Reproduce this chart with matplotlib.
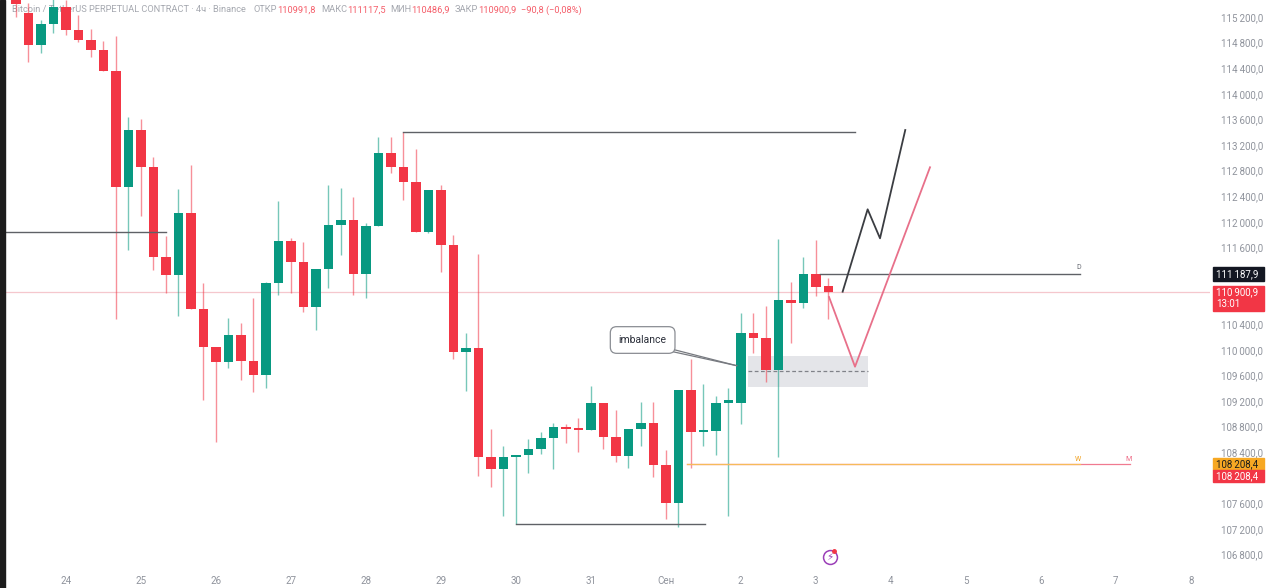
import matplotlib
matplotlib.use('Agg')
import matplotlib.pyplot as plt
from matplotlib.patches import Rectangle
from matplotlib.transforms import IdentityTransform, blended_transform_factory
import numpy as np

plt.rcParams['font.family'] = ['Roboto', 'DejaVu Sans']

# BTCUSDT.P 4h candles, index 0 = 24 Aug 00:00
idx = list(range(-4, 62))
opens = [115591, 115258, 114762, 115091, 115361, 114997, 114841, 114684, 114361, 112539,
         113434, 112856, 111450, 111169, 112137, 110637, 110048, 109809, 110231, 109830,
         109606, 111048, 111705, 111367, 110673, 111258, 111950, 112028, 111184, 111939,
         113070, 112861, 112627, 111845, 112497, 111637, 109961, 110033, 108320, 108137,
         108320, 108356, 108450, 108627, 108798, 108762, 108747, 109164, 108642, 108341,
         108758, 108861, 108200, 107601, 109372, 108711, 108731, 109174, 109174, 110267,
         110179, 109684, 110778, 110736, 111180, 110991.8]
highs = [115653, 115414, 115153, 115512, 115466, 115231, 115012, 114825, 114903, 113637,
         113606, 113012, 111778, 112512, 112887, 111039, 110048, 110497, 110419, 110809,
         111059, 112325, 111747, 111689, 111258, 112575, 112533, 112392, 111981, 113320,
         113330, 113408, 113133, 112497, 112575, 111794, 110258, 111492, 108762, 108497,
         108356, 108601, 108720, 108852, 108841, 108939, 109434, 109169, 109059, 108758,
         109189, 109189, 108434, 109372, 109851, 109466, 109278, 109398, 110570, 110570,
         110684, 111726, 111064, 111455, 111716, 111117.5]
lows = [115200, 114502, 114633, 114945, 114919, 114809, 114575, 114356, 110481, 111559,
        112091, 111247, 110887, 110528, 110637, 109216, 108559, 109716, 109528, 109345,
        109403, 110856, 110887, 110595, 110309, 110966, 111481, 110856, 110809, 111939,
        112762, 112341, 111845, 111825, 111220, 109851, 109361, 108028, 107861, 107403,
        107273, 108070, 108367, 108137, 108548, 108408, 108747, 108445, 108252, 108148,
        108497, 108017, 107351, 107226, 108148, 108497, 108356, 107403, 108841, 109945,
        109502, 108330, 110111, 110648, 110841, 110486.9]
closes = [115403, 114762, 115091, 115361, 114997, 114841, 114684, 114356, 112539, 113434,
          112856, 111450, 111169, 112137, 110637, 110048, 109805, 110231, 109825, 109606,
          111039, 111705, 111367, 110673, 111258, 111950, 112028, 111184, 111939, 113070,
          112861, 112627, 111845, 112497, 111637, 109961, 110033, 108320, 108137, 108320,
          108356, 108450, 108627, 108798, 108758, 108742, 109164, 108642, 108341, 108758,
          108861, 108200, 107601, 109372, 108711, 108731, 109174, 109189, 110267, 110189,
          109684, 110778, 110736, 111180, 110986, 110900.9]

day_ticks = list(range(0, 96, 6))
day_labels = ['24', '25', '26', '27', '28', '29', '30', '31', 'Сен', '2', '3', '4', '5', '6', '7', '8']
price_ticks = [p for p in range(106800, 115600, 400) if p not in (111200, 110800, 108000)]

# drawings (candle index, price)
level_lines = [(27, 63.1, 113408), (-6, 8.0, 111836), (36, 51.1, 107273), (60.3, 81.1, 111187.9)]
path_black = [(62.15, 110908), (64.15, 112195), (65.14, 111742), (67.16, 113434)]
path_pink = [(61.06, 110825), (63.14, 109736), (69.14, 112852)]
imb_x = (54.6, 64.15)
imb_y = (109423, 109903)
imb_mid = 109669
last_price = 110900.9
d_level = 111187.9
wm_level = 108208.4

GREEN = '#089981'
RED = '#f23645'
GRAY = '#8f939c'

W, H = 1267, 588
fig = plt.figure(figsize=(W / 100, H / 100), dpi=100)
fig.patch.set_facecolor('white')
ax = fig.add_axes([5 / W, 20 / H, 1205 / W, 568 / H])
ax.set_facecolor('white')
ax.set_xlim(-4.864, 91.54)
ax.set_ylim(106590.6, 115465.6)
for s in ax.spines.values():
    s.set_visible(False)

# dark strip on the far left
fig.add_artist(Rectangle((0, 0), 4.5 / W, 1, transform=fig.transFigure, color='#1c1c1c', zorder=10))

# candles
for k, o, h, l, c in zip(idx, opens, highs, lows, closes):
    col = GREEN if c >= o else RED
    ax.vlines(k, l, h, color=col, lw=1, alpha=0.55, zorder=3)
    body = max(abs(c - o), 35)
    ax.bar(k, body, bottom=min(o, c), width=0.76, color=col, zorder=4, linewidth=0)

# price line
ax.axhline(last_price, color='#f5c7cd', lw=0.9, zorder=2)

# horizontal levels
for x0, x1, p in level_lines:
    ax.plot([x0, x1], [p, p], color='#5f6166', lw=1, zorder=5)
ax.plot([49.7, 85.1], [wm_level, wm_level], color='#f07a90', lw=0.9, zorder=5)
ax.plot([49.7, 81.1], [wm_level, wm_level], color='#f6bb5a', lw=0.9, zorder=5)
ax.text(81.0, d_level + 40, 'D', fontsize=5, color='#6a6d75', ha='center', va='bottom', zorder=6)
ax.text(81.0, wm_level + 30, 'W', fontsize=5, color='#f0a020', ha='center', va='bottom', zorder=6)
ax.text(85.0, wm_level + 30, 'M', fontsize=5, color='#ee6a85', ha='center', va='bottom', zorder=6)

# imbalance zone
ax.add_patch(Rectangle((imb_x[0], imb_y[0]), imb_x[1] - imb_x[0], imb_y[1] - imb_y[0],
                       color='#e4e5e9', lw=0, zorder=1))
ax.plot(imb_x, [imb_mid, imb_mid], color='#808289', lw=0.9, ls=(0, (3, 2)), zorder=5)

# callout
ax.plot([48.1, 53.67], [110030, 109752], color='#777a80', lw=0.9, zorder=6)
ax.plot([48.1, 53.67], [109990, 109752], color='#777a80', lw=0.9, zorder=6)
ax.text(46.15, 110153, 'imbalance', fontsize=7.5, color='#2a2e39', ha='center', va='center', zorder=7,
        bbox=dict(boxstyle='round,pad=0.8,rounding_size=0.6', fc='white', ec='#8a8d93', lw=0.9))

# projected paths
ax.plot(*zip(*path_black), color='#3b3d42', lw=1.3, zorder=6)
ax.plot(*zip(*path_pink), color='#e8708a', lw=1.3, zorder=6)

# lightning icon
ax.plot(61.1, 106762, 'o', ms=10, mfc='white', mec='#9b3fb8', mew=1.1, zorder=6, clip_on=False)
ax.text(61.1, 106762, '\u26a1', fontsize=7.5, color='#9b3fb8', ha='center', va='center',
        family='DejaVu Sans', zorder=7)
ax.plot(61.45, 106860, 'o', ms=2.5, color='#f23645', zorder=8)

# axes ticks
ax.set_xticks(day_ticks)
ax.set_xticklabels(day_labels)
ax.tick_params(axis='x', length=0, pad=6, labelsize=7, labelcolor=GRAY)
ax.yaxis.tick_right()
ax.set_yticks(price_ticks)
ax.set_yticklabels([f'{p:,.1f}'.replace(',', '\u2009').replace('.', ',') for p in price_ticks])
ax.tick_params(axis='y', length=0, pad=8, labelsize=7, labelcolor=GRAY)

# price tags on the scale
tr = blended_transform_factory(fig.transFigure, ax.transData)
px = 15.625
def tag(p_top, p_bot, fc, lines, tc):
    ax.add_patch(Rectangle((1213 / W, p_bot), 51 / W, p_top - p_bot, transform=tr, color=fc,
                           clip_on=False, zorder=9))
    for txt, p in lines:
        ax.text(1216 / W, p, txt, transform=tr, fontsize=7, color=tc, va='center', ha='left',
                clip_on=False, zorder=10)

tag(d_level + 7 * px, d_level - 7 * px, '#131722', [('111\u2009187,9', d_level)], 'white')
tag(last_price + 6 * px, last_price - 19 * px, '#f23645',
    [('110\u2009900,9', last_price), ('13:01', last_price - 12 * px)], 'white')
tag(wm_level + 6 * px, wm_level - 6 * px, '#f7a823', [('108\u2009208,4', wm_level)], '#1b1b1b')
tag(wm_level - 6 * px, wm_level - 18 * px, '#f23645', [('108\u2009208,4', wm_level - 12 * px)], 'white')

# header line, drawn under the candles
renderer = fig.canvas.get_renderer()
parts = [('Bitcoin / TetherUS PERPETUAL CONTRACT · 4ч · Binance', GRAY, 8),
         ('ОТКР', GRAY, 0), ('110991,8', RED, 5),
         ('МАКС', GRAY, 0), ('111117,5', RED, 5),
         ('МИН', GRAY, 0), ('110486,9', RED, 5),
         ('ЗАКР', GRAY, 0), ('110900,9', RED, 4),
         ('−90,8 (−0,08%)', RED, 0)]
x = 12
for txt, col, gap in parts:
    t = ax.text(x, H - 10, txt, transform=IdentityTransform(), fontsize=6.7, color=col,
                va='center', ha='left', zorder=1, alpha=0.8)
    x = t.get_window_extent(renderer).x1 + gap

fig.savefig('out.png', dpi=100)
